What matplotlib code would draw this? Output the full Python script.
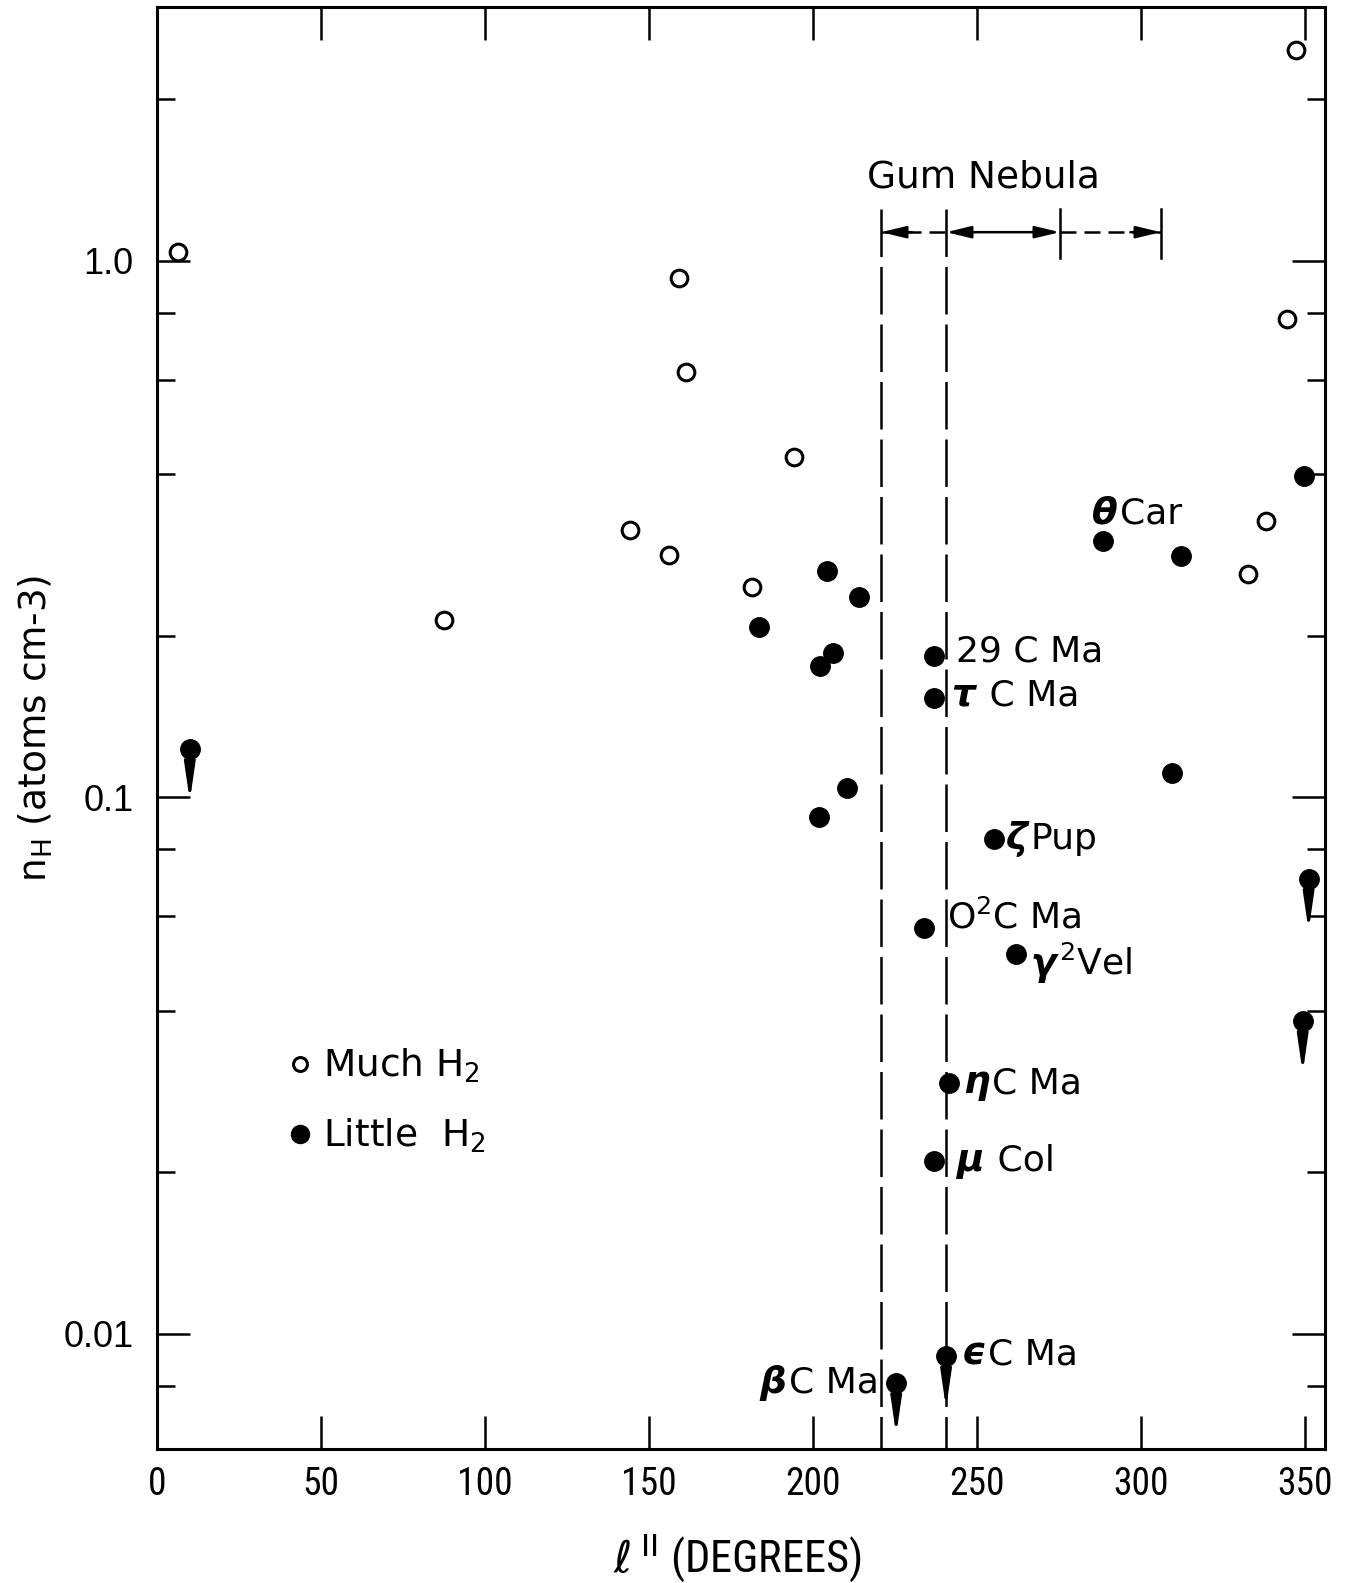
import matplotlib
matplotlib.use('Agg')
import matplotlib.pyplot as plt
import matplotlib.ticker as mticker
from matplotlib.lines import Line2D
from matplotlib.offsetbox import TextArea, HPacker, AnnotationBbox
from matplotlib.transforms import offset_copy

# ---------------- data ----------------
# open circles: much H2
much_l = [6.3, 159.1, 161.2, 194.1, 144.3, 156.0, 181.5, 87.5, 347.3, 344.4, 338.0, 332.4]
much_n = [1.04, 0.93, 0.62, 0.43, 0.315, 0.283, 0.247, 0.214, 2.47, 0.777, 0.327, 0.261]

# filled circles: little H2 (unlabelled)
little_l = [204.2, 214.1, 183.4, 206.1, 202.1, 210.4, 201.8, 312.1, 309.4, 349.6]
little_n = [0.264, 0.236, 0.208, 0.186, 0.176, 0.104, 0.092, 0.282, 0.111, 0.397]

# filled circles, upper limits (unlabelled)
limit_l = [10.0, 351.0, 349.2]
limit_n = [0.123, 0.0705, 0.0383]

# labelled stars (little H2)
star_l = [236.8, 236.8, 255.1, 233.8, 261.8, 241.4, 236.8, 288.3, 240.5, 225.3]
star_n = [0.183, 0.153, 0.0837, 0.0571, 0.051, 0.0293, 0.021, 0.30, 0.00908, 0.0081]
star_greek = ['', 'τ', 'ζ', '', 'γ', 'η', 'μ', 'θ', 'ϵ', 'β']
star_rest = ['29 C Ma', ' C Ma', 'Pup', 'O$^2$C Ma', '$^2$Vel', 'C Ma', ' Col', 'Car', 'C Ma', 'C Ma']
star_limit = [False, False, False, False, False, False, False, False, True, True]

# Gum Nebula extent markers (degrees)
gum_dashed = [220.7, 240.5]
gum_solid = [275.2, 306.0]
gum_bar_n = [1.01, 1.25]
gum_arrow_n = 1.13
gum_text_l, gum_text_n = 251.9, 1.43

xticks = [0, 50, 100, 150, 200, 250, 300, 350]
yticks = [0.01, 0.1, 1.0]
ytick_labels = ['0.01', '0.1', '1.0']
xlim = (0, 356)
ylim = (0.0061, 2.97)

# label layout (offset points, horizontal alignment of box)
label_layout = [(15.8, 3.6, 0), (12.2, 2.2, 0), (8.6, 0, 0), (16.5, 7.2, 0), (10.8, -7.2, 0),
                (10.0, 0, 0), (15.8, 0, 0), (-7.9, 20.2, 0), (10.8, 1.4, 0), (-12.2, 0, 1)]

TXT = 'DejaVu Sans'
NARROW = ['Liberation Sans Narrow', 'DejaVu Sans Condensed', 'Roboto Condensed', 'Liberation Sans']

fig = plt.figure(figsize=(13.53, 15.83), dpi=100)
ax = fig.add_axes([157/1353, 1-1449/1583, 1168/1353, 1442/1583])
ax.set_yscale('log')
ax.set_xlim(*xlim)
ax.set_ylim(*ylim)

# ---------------- Gum nebula ----------------
for x in gum_dashed:
    ax.plot([x, x], [gum_bar_n[1], ylim[0]], color='k', lw=1.8,
            linestyle=(0, (19, 4)), zorder=1, solid_capstyle='butt')
for x in gum_solid:
    ax.plot([x, x], gum_bar_n, color='k', lw=1.8, zorder=1)
hd = dict(mutation_scale=20, lw=1.8, color='k', shrinkA=0, shrinkB=0)
ax.plot(gum_dashed, [gum_arrow_n]*2, color='k', lw=1.8, linestyle=(0, (6.4, 3.2)))
ax.plot(gum_solid, [gum_arrow_n]*2, color='k', lw=1.8, linestyle=(0, (6.4, 3.2)))
ax.annotate('', xy=(gum_dashed[0], gum_arrow_n), xytext=(22, 0), textcoords='offset points',
            arrowprops=dict(arrowstyle='-|>,head_length=0.75,head_width=0.18', **hd))
ax.annotate('', xy=(gum_solid[1], gum_arrow_n), xytext=(-22, 0), textcoords='offset points',
            arrowprops=dict(arrowstyle='-|>,head_length=0.75,head_width=0.18', **hd))
ax.annotate('', xy=(gum_dashed[1], gum_arrow_n), xytext=(gum_solid[0], gum_arrow_n),
            arrowprops=dict(arrowstyle='<|-|>,head_length=0.75,head_width=0.18', **hd))
ax.text(gum_text_l, gum_text_n, 'Gum Nebula', ha='center', va='center', fontsize=27, family=TXT)

# ---------------- points ----------------
ax.plot(much_l, much_n, 'o', ls='', mfc='white', mec='k', ms=12, mew=2.2, zorder=3)
ax.plot(little_l, little_n, 'o', ls='', color='k', ms=14, zorder=3)
ax.plot(limit_l, limit_n, 'o', ls='', color='k', ms=14, zorder=3)
ax.plot(star_l, star_n, 'o', ls='', color='k', ms=14, zorder=3)

down = offset_copy(ax.transData, fig=fig, x=0, y=-52, units='dots')
arr = dict(arrowstyle='-|>,head_length=1.1,head_width=0.16', mutation_scale=20,
           lw=2.2, color='k', shrinkA=0, shrinkB=0)
lim_l = limit_l + [l for l, f in zip(star_l, star_limit) if f]
lim_n = limit_n + [n for n, f in zip(star_n, star_limit) if f]
for x, y in zip(lim_l, lim_n):
    ax.annotate('', xy=(x, y), xycoords=down, xytext=(x, y), textcoords='data',
                arrowprops=arr, zorder=2)

for x, y, g, r, (dx, dy, al) in zip(star_l, star_n, star_greek, star_rest, label_layout):
    kids = []
    if g:
        kids.append(TextArea(g, textprops=dict(fontsize=27, fontweight='bold',
                                               fontstyle='italic', family=TXT)))
    kids.append(TextArea(r, textprops=dict(fontsize=26, family=TXT)))
    box = HPacker(children=kids, align='baseline', pad=0, sep=2)
    ab = AnnotationBbox(box, (x, y), xybox=(dx, dy), xycoords='data', boxcoords='offset points',
                        box_alignment=(al, 0.5), frameon=False, pad=0, zorder=4)
    ax.add_artist(ab)

# ---------------- legend ----------------
handles = [Line2D([], [], marker='o', ls='', mfc='white', mec='k', ms=10, mew=2.2),
           Line2D([], [], marker='o', ls='', color='k', ms=13)]
leg = ax.legend(handles, ['Much H$_2$', 'Little  H$_2$'], loc='upper left',
                bbox_to_anchor=(0.110, 0.279), frameon=False, handletextpad=0.2,
                handlelength=0.8, labelspacing=0.85, borderpad=0, borderaxespad=0,
                prop=dict(family=TXT, size=27))

# ---------------- axes ----------------
ax.set_xticks(xticks)
ax.set_xticklabels([str(t) for t in xticks], family=NARROW, fontsize=27)
ax.yaxis.set_major_locator(mticker.FixedLocator(yticks))
ax.yaxis.set_major_formatter(mticker.FixedFormatter(ytick_labels))
ax.yaxis.set_minor_locator(mticker.LogLocator(base=10, subs=[2, 4, 6, 8]))
ax.yaxis.set_minor_formatter(mticker.NullFormatter())
for lab in ax.get_yticklabels():
    lab.set_family('Liberation Sans')
    lab.set_fontsize(26)
ax.tick_params(which='both', direction='in', top=True, right=True, width=1.8)
ax.tick_params(which='major', length=24, pad=12)
ax.tick_params(axis='y', which='major', pad=17)
ax.tick_params(which='minor', length=13)
for s in ax.spines.values():
    s.set_linewidth(2.2)

ax.set_ylabel('n$_{\\mathrm{H}}$ (atoms cm-3)', family=TXT, fontsize=27)
ax.yaxis.set_label_coords(-0.087, 0.5)
ax.set_xlabel(r'$\ell^{\,\mathrm{II}}$ (DEGREES)', family=NARROW, fontsize=32)
ax.xaxis.set_label_coords(0.497, -0.0756)
ax.xaxis.label.set_va('center')

fig.savefig('out.png', dpi=100)
